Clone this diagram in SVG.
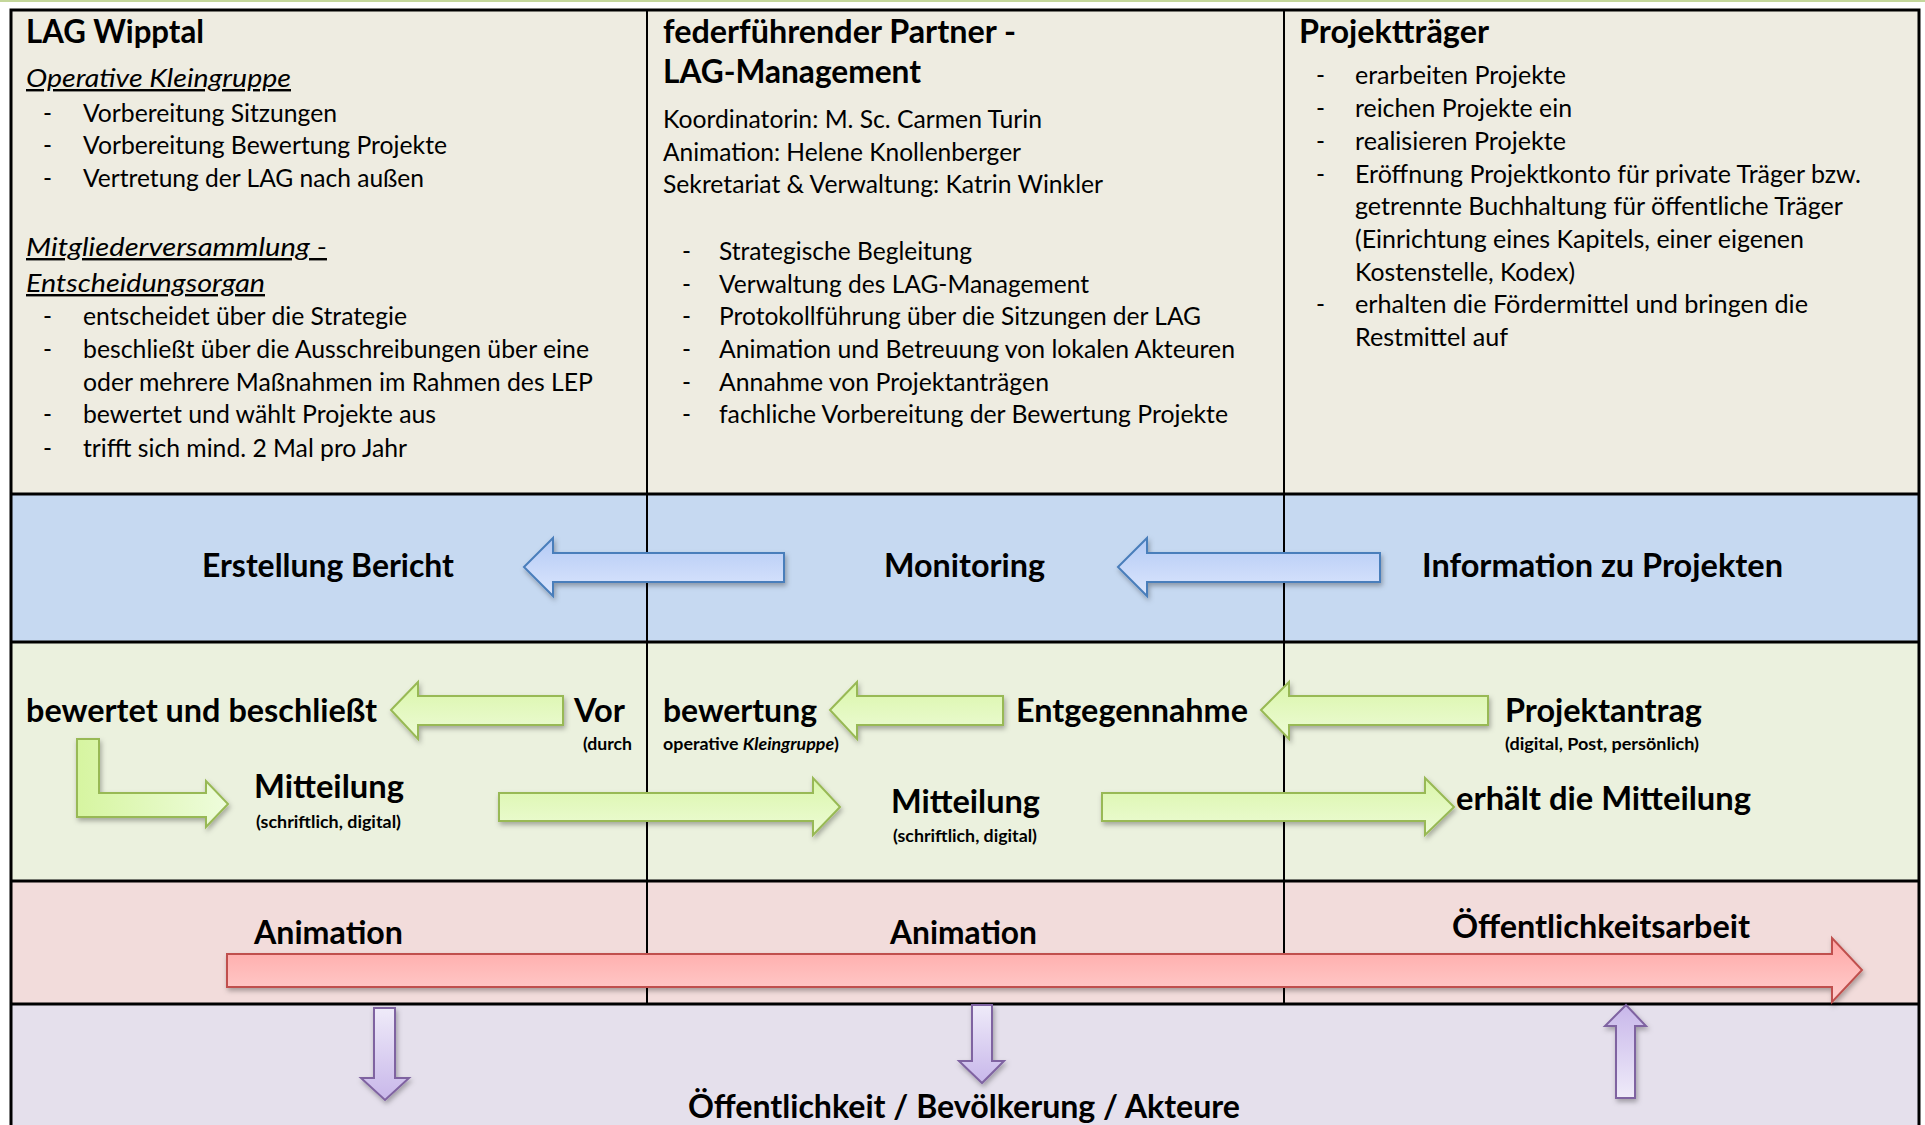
<svg xmlns="http://www.w3.org/2000/svg" width="1925" height="1125" viewBox="0 0 1925 1125">
<defs>
<style>
text{font-family:Lato,"Liberation Sans",sans-serif;fill:#000}
.h{font-size:31.5px;font-weight:bold}
.b{font-size:24.2px}
.s{font-size:17px;font-weight:bold}
.u{font-style:italic;text-decoration:underline}
.row{stroke:#000;stroke-width:3;fill:none}
.col{stroke:#000;stroke-width:2;fill:none}
.ab{fill:url(#gBlue);stroke:#4A7EBB;stroke-width:2;filter:url(#sh)}
.ag{fill:url(#gGreen);stroke:#98B954;stroke-width:2;filter:url(#sh)}
.ap{fill:url(#gPink);stroke:#C0504D;stroke-width:2;filter:url(#sh)}
.av{stroke:#7F63A1;stroke-width:2;filter:url(#sh)}
</style>
<linearGradient id="gBlue" x1="0" y1="0" x2="0" y2="1"><stop offset="0" stop-color="#B3CAF5"/><stop offset="1" stop-color="#DCE6FD"/></linearGradient>
<linearGradient id="gGreen" x1="0" y1="0" x2="0" y2="1"><stop offset="0" stop-color="#DAF6AA"/><stop offset="1" stop-color="#EDFBD6"/></linearGradient>
<linearGradient id="gGreenH" x1="0" y1="0" x2="1" y2="0"><stop offset="0" stop-color="#D6F5A0"/><stop offset="1" stop-color="#EEFCDC"/></linearGradient>
<linearGradient id="gPink" x1="0" y1="0" x2="0" y2="1"><stop offset="0" stop-color="#FFA6A5"/><stop offset="1" stop-color="#FFCFCE"/></linearGradient>
<linearGradient id="gPurD" x1="0" y1="0" x2="0" y2="1"><stop offset="0" stop-color="#EFEBF9"/><stop offset="1" stop-color="#C8B7EA"/></linearGradient>
<linearGradient id="gPurU" x1="0" y1="1" x2="0" y2="0"><stop offset="0" stop-color="#EFEBF9"/><stop offset="1" stop-color="#C8B7EA"/></linearGradient>
<filter id="sh" x="-10%" y="-30%" width="130%" height="170%"><feDropShadow dx="1.5" dy="3" stdDeviation="2.5" flood-color="#000" flood-opacity="0.3"/></filter>
</defs>

<rect x="0" y="0" width="1925" height="1125" fill="#FFFFFF"/>
<rect x="0" y="0" width="1925" height="2" fill="#C4D79B"/>

<g id="backgrounds">
<rect x="10" y="9" width="1910" height="485" fill="#EEECE1"/>
<rect x="10" y="494" width="1910" height="148" fill="#C6D9F1"/>
<rect x="10" y="642" width="1910" height="239" fill="#EBF1DE"/>
<rect x="10" y="881" width="1910" height="123" fill="#F2DCDB"/>
<rect x="10" y="1004" width="1910" height="125" fill="#E5E0EC"/>
</g>

<g id="grid">
<path class="row" d="M11,1130 V10 H1919 V1130"/>
<path class="row" d="M10,494 H1920 M10,642 H1920 M10,881 H1920 M10,1004 H1920"/>
<path class="col" d="M647,10 V1004 M1284,10 V1004"/>
</g>

<g id="lag-wipptal">
<text class="h" x="26" y="43" textLength="178" lengthAdjust="spacingAndGlyphs">LAG Wipptal</text>
<text class="b u" x="26" y="87" textLength="265" lengthAdjust="spacingAndGlyphs">Operative Kleingruppe</text>
<text class="b" x="43" y="122">-</text>
<text class="b" x="43" y="154">-</text>
<text class="b" x="43" y="187">-</text>
<text class="b" x="43" y="325">-</text>
<text class="b" x="43" y="358">-</text>
<text class="b" x="43" y="423">-</text>
<text class="b" x="43" y="457">-</text>
<text class="b" x="83" y="122" textLength="254" lengthAdjust="spacingAndGlyphs">Vorbereitung Sitzungen</text>
<text class="b" x="83" y="154" textLength="364" lengthAdjust="spacingAndGlyphs">Vorbereitung Bewertung Projekte</text>
<text class="b" x="83" y="187" textLength="341" lengthAdjust="spacingAndGlyphs">Vertretung der LAG nach außen</text>
<text class="b u" x="26" y="256" textLength="301" lengthAdjust="spacingAndGlyphs">Mitgliederversammlung -</text>
<text class="b u" x="26" y="292" textLength="239" lengthAdjust="spacingAndGlyphs">Entscheidungsorgan</text>
<text class="b" x="83" y="325" textLength="324" lengthAdjust="spacingAndGlyphs">entscheidet über die Strategie</text>
<text class="b" x="83" y="358" textLength="506" lengthAdjust="spacingAndGlyphs">beschließt über die Ausschreibungen über eine</text>
<text class="b" x="83" y="391" textLength="510" lengthAdjust="spacingAndGlyphs">oder mehrere Maßnahmen im Rahmen des LEP</text>
<text class="b" x="83" y="423" textLength="353" lengthAdjust="spacingAndGlyphs">bewertet und wählt Projekte aus</text>
<text class="b" x="83" y="457" textLength="324" lengthAdjust="spacingAndGlyphs">trifft sich mind. 2 Mal pro Jahr</text>
</g>

<g id="lag-management">
<text class="h" x="663" y="43" textLength="353" lengthAdjust="spacingAndGlyphs">federführender Partner -</text>
<text class="h" x="663" y="83" textLength="258" lengthAdjust="spacingAndGlyphs">LAG-Management</text>
<text class="b" x="663" y="128" textLength="379" lengthAdjust="spacingAndGlyphs">Koordinatorin: M. Sc. Carmen Turin</text>
<text class="b" x="663" y="161" textLength="358" lengthAdjust="spacingAndGlyphs">Animation: Helene Knollenberger</text>
<text class="b" x="663" y="193" textLength="440" lengthAdjust="spacingAndGlyphs">Sekretariat &amp; Verwaltung: Katrin Winkler</text>
<text class="b" x="682" y="260">-</text>
<text class="b" x="682" y="293">-</text>
<text class="b" x="682" y="325">-</text>
<text class="b" x="682" y="358">-</text>
<text class="b" x="682" y="391">-</text>
<text class="b" x="682" y="423">-</text>
<text class="b" x="719" y="260" textLength="253" lengthAdjust="spacingAndGlyphs">Strategische Begleitung</text>
<text class="b" x="719" y="293" textLength="370" lengthAdjust="spacingAndGlyphs">Verwaltung des LAG-Management</text>
<text class="b" x="719" y="325" textLength="482" lengthAdjust="spacingAndGlyphs">Protokollführung über die Sitzungen der LAG</text>
<text class="b" x="719" y="358" textLength="516" lengthAdjust="spacingAndGlyphs">Animation und Betreuung von lokalen Akteuren</text>
<text class="b" x="719" y="391" textLength="330" lengthAdjust="spacingAndGlyphs">Annahme von Projektanträgen</text>
<text class="b" x="719" y="423" textLength="509" lengthAdjust="spacingAndGlyphs">fachliche Vorbereitung der Bewertung Projekte</text>
</g>

<g id="projekttraeger">
<text class="h" x="1299" y="43" textLength="190" lengthAdjust="spacingAndGlyphs">Projektträger</text>
<text class="b" x="1316" y="84">-</text>
<text class="b" x="1316" y="117">-</text>
<text class="b" x="1316" y="150">-</text>
<text class="b" x="1316" y="183">-</text>
<text class="b" x="1316" y="313">-</text>
<text class="b" x="1355" y="84" textLength="211" lengthAdjust="spacingAndGlyphs">erarbeiten Projekte</text>
<text class="b" x="1355" y="117" textLength="217" lengthAdjust="spacingAndGlyphs">reichen Projekte ein</text>
<text class="b" x="1355" y="150" textLength="211" lengthAdjust="spacingAndGlyphs">realisieren Projekte</text>
<text class="b" x="1355" y="183" textLength="506" lengthAdjust="spacingAndGlyphs">Eröffnung Projektkonto für private Träger bzw.</text>
<text class="b" x="1355" y="215" textLength="488" lengthAdjust="spacingAndGlyphs">getrennte Buchhaltung für öffentliche Träger</text>
<text class="b" x="1355" y="248" textLength="449" lengthAdjust="spacingAndGlyphs">(Einrichtung eines Kapitels, einer eigenen</text>
<text class="b" x="1355" y="281" textLength="220" lengthAdjust="spacingAndGlyphs">Kostenstelle, Kodex)</text>
<text class="b" x="1355" y="313" textLength="453" lengthAdjust="spacingAndGlyphs">erhalten die Fördermittel und bringen die</text>
<text class="b" x="1355" y="346" textLength="153" lengthAdjust="spacingAndGlyphs">Restmittel auf</text>
</g>

<g id="connectors">
<polygon id="arrow-monitoring-bericht" class="ab" points="524,567 553,538 553,553 784,553 784,582 553,582 553,596"/>
<polygon id="arrow-info-monitoring" class="ab" points="1118,567 1147,538 1147,553 1380,553 1380,582 1147,582 1147,596"/>
<polygon id="arrow-vor-bewertet" class="ag" points="391,710 418,682 418,696 563,696 563,725 418,725 418,739"/>
<polygon id="arrow-entgegen-bewertung" class="ag" points="830,710 857,682 857,696 1003,696 1003,725 857,725 857,739"/>
<polygon id="arrow-antrag-entgegen" class="ag" points="1261,710 1289,682 1289,696 1488,696 1488,725 1289,725 1289,739"/>
<polygon id="arrow-bent-mitteilung" class="ag" style="fill:url(#gGreenH)" points="77,739 99,739 99,793 206,793 206,781 228,804 206,827 206,817 77,817"/>
<polygon id="arrow-mitteilung-1" class="ag" points="499,793 813,793 813,778 840,807 813,835 813,821 499,821"/>
<polygon id="arrow-mitteilung-2" class="ag" points="1102,793 1425,793 1425,778 1454,807 1425,835 1425,821 1102,821"/>
<polygon id="arrow-animation" class="ap" points="227,954 1832,954 1832,938 1862,970 1832,1002 1832,987 227,987"/>
<polygon id="arrow-down-1" class="av" fill="url(#gPurD)" points="374,1008 395,1008 395,1078 409,1078 385,1100 361,1078 374,1078"/>
<polygon id="arrow-down-2" class="av" fill="url(#gPurD)" points="972,1005 992,1005 992,1061 1004,1061 982,1083 959,1061 972,1061"/>
<polygon id="arrow-up-3" class="av" fill="url(#gPurU)" points="1616,1098 1635,1098 1635,1026 1646,1026 1626,1005 1605,1026 1616,1026"/>
</g>

<g id="row-monitoring">
<text class="h" x="202" y="577" textLength="252" lengthAdjust="spacingAndGlyphs">Erstellung Bericht</text>
<text class="h" x="884" y="577" textLength="161" lengthAdjust="spacingAndGlyphs">Monitoring</text>
<text class="h" x="1422" y="577" textLength="361" lengthAdjust="spacingAndGlyphs">Information zu Projekten</text>
</g>

<g id="row-projekte">
<text class="h" x="26" y="722" textLength="351" lengthAdjust="spacingAndGlyphs">bewertet und beschließt</text>
<text class="h" x="574" y="722" textLength="51" lengthAdjust="spacingAndGlyphs">Vor</text>
<text class="s" x="583" y="750" textLength="49" lengthAdjust="spacingAndGlyphs">(durch</text>
<text class="h" x="663" y="722" textLength="154" lengthAdjust="spacingAndGlyphs">bewertung</text>
<text class="s" x="663" y="750" textLength="176" lengthAdjust="spacingAndGlyphs">operative <tspan font-style="italic">Kleingruppe</tspan>)</text>
<text class="h" x="1016" y="722" textLength="232" lengthAdjust="spacingAndGlyphs">Entgegennahme</text>
<text class="h" x="1505" y="722" textLength="197" lengthAdjust="spacingAndGlyphs">Projektantrag</text>
<text class="s" x="1505" y="750" textLength="194" lengthAdjust="spacingAndGlyphs">(digital, Post, persönlich)</text>
<text class="h" x="254" y="798" textLength="150" lengthAdjust="spacingAndGlyphs">Mitteilung</text>
<text class="s" x="256" y="828" textLength="145" lengthAdjust="spacingAndGlyphs">(schriftlich, digital)</text>
<text class="h" x="891" y="813" textLength="149" lengthAdjust="spacingAndGlyphs">Mitteilung</text>
<text class="s" x="893" y="842" textLength="144" lengthAdjust="spacingAndGlyphs">(schriftlich, digital)</text>
<text class="h" x="1456" y="810" textLength="295" lengthAdjust="spacingAndGlyphs">erhält die Mitteilung</text>
</g>

<g id="row-animation">
<text class="h" x="254" y="944" textLength="149" lengthAdjust="spacingAndGlyphs">Animation</text>
<text class="h" x="890" y="944" textLength="147" lengthAdjust="spacingAndGlyphs">Animation</text>
<text class="h" x="1452" y="938" textLength="298" lengthAdjust="spacingAndGlyphs">Öffentlichkeitsarbeit</text>
</g>

<g id="row-oeffentlichkeit">
<text class="h" x="688" y="1118" textLength="552" lengthAdjust="spacingAndGlyphs">Öffentlichkeit / Bevölkerung / Akteure</text>
</g>
</svg>
